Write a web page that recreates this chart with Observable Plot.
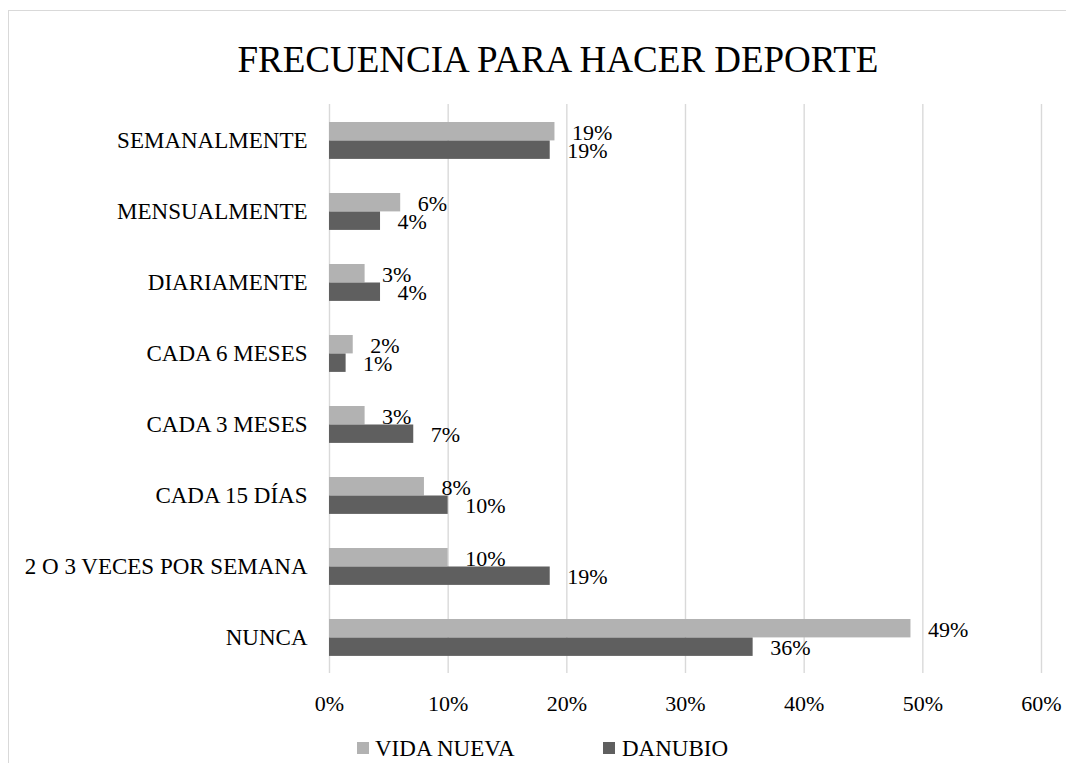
<!DOCTYPE html>
<html>
<head>
<meta charset="utf-8">
<script src="https://cdn.jsdelivr.net/npm/d3@7"></script>
<script src="https://cdn.jsdelivr.net/npm/@observablehq/plot@0.6"></script>
<style>
  html, body { margin: 0; padding: 0; background: #fff; overflow: hidden; }
  #wrap { position: relative; width: 1066px; height: 763px; overflow: hidden; font-family: "Liberation Serif", "Times New Roman", serif; color: #000; }
  #frame { position: absolute; left: 8px; top: 10px; width: 1200px; height: 900px; border: 1.5px solid #d9d9d9; box-sizing: border-box; }
  #title { position: absolute; left: 58px; width: 1000px; top: 41px; text-align: center; font-size: 37px; line-height: 37px; white-space: nowrap; }
  #chart { position: absolute; left: 0; top: 90px; }
  .leg { position: absolute; font-size: 23px; line-height: 23px; white-space: nowrap; }
  .sw { position: absolute; width: 12px; height: 12px; }
</style>
</head>
<body>
<div id="wrap">
  <div id="frame"></div>
  <div id="title">FRECUENCIA PARA HACER DEPORTE</div>
  <div id="chart"></div>
  <div id="legend"></div>
</div>
<script>
const categories = ["SEMANALMENTE", "MENSUALMENTE", "DIARIAMENTE", "CADA 6 MESES", "CADA 3 MESES", "CADA 15 DÍAS", "2 O 3 VECES POR SEMANA", "NUNCA"];
const vidaNueva = [19, 6, 3, 2, 3, 8, 10, 49];
const danubio = [18.6, 4.3, 4.3, 1.4, 7.1, 10.0, 18.6, 35.7];
const seriesNames = ["VIDA NUEVA", "DANUBIO"];
const seriesColors = ["#b2b2b2", "#5f5f5f"];
const xTicks = [0, 10, 20, 30, 40, 50, 60];

const rowsVN = categories.map((c, i) => ({cat: c, value: vidaNueva[i]}));
const rowsD = categories.map((c, i) => ({cat: c, value: danubio[i]}));

const plot = Plot.plot({
  width: 1066,
  height: 640,
  marginLeft: 329,
  marginRight: 25,
  marginTop: 14,
  marginBottom: 57,
  style: { fontFamily: "'Liberation Serif', 'Times New Roman', serif", fontSize: "22px", color: "#000", background: "transparent" },
  x: { domain: [0, 60], axis: null, label: null },
  y: { domain: categories, padding: 0, axis: null, label: null },
  marks: [
    Plot.gridX(xTicks, { stroke: "#d9d9d9", strokeOpacity: 1, strokeWidth: 1.4 }),
    Plot.barX(rowsVN, { x: "value", y: "cat", fill: seriesColors[0], insetTop: 17, insetBottom: 35.6 }),
    Plot.barX(rowsD, { x: "value", y: "cat", fill: seriesColors[1], insetTop: 35.5, insetBottom: 17.1 }),
    Plot.text(rowsVN, { x: "value", y: "cat", text: d => Math.round(d.value) + "%", dx: 17, dy: -8.5, textAnchor: "start", fontSize: 22, fill: "#000" }),
    Plot.text(rowsD, { x: "value", y: "cat", text: d => Math.round(d.value) + "%", dx: 17, dy: 10, textAnchor: "start", fontSize: 22, fill: "#000" }),
    Plot.axisY({ tickSize: 0, tickPadding: 22, fontSize: 23, label: null }),
    Plot.axisX(xTicks, { tickSize: 0, tickPadding: 22, fontSize: 22, tickFormat: d => d + "%", label: null })
  ]
});
document.getElementById("chart").appendChild(plot);

// legend
const legend = document.getElementById("legend");
const legPos = [{sw: 357, tx: 375}, {sw: 603, tx: 622}];
seriesNames.forEach((name, i) => {
  const s = document.createElement("div");
  s.className = "sw";
  s.style.left = legPos[i].sw + "px";
  s.style.top = "742px";
  s.style.background = seriesColors[i];
  legend.appendChild(s);
  const t = document.createElement("div");
  t.className = "leg";
  t.style.left = legPos[i].tx + "px";
  t.style.top = "737px";
  t.textContent = name;
  legend.appendChild(t);
});
</script>
</body>
</html>
